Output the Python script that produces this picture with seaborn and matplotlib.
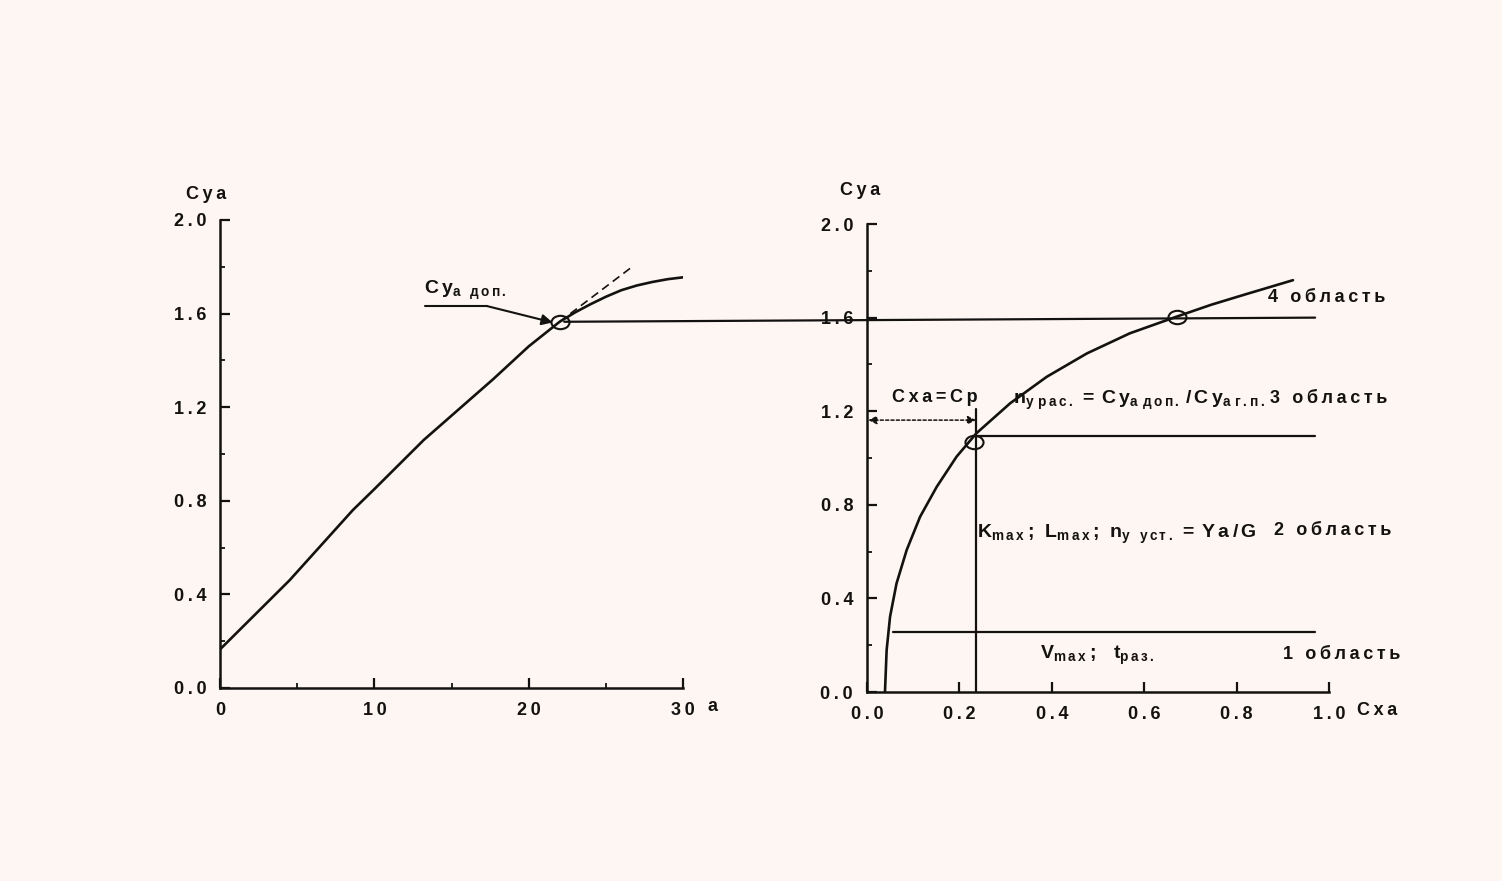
import numpy as np
import pandas as pd
import matplotlib
matplotlib.use("Agg")
import matplotlib.pyplot as plt
import seaborn as sns
from matplotlib.patches import ConnectionPatch
from matplotlib.path import Path
from matplotlib.transforms import Affine2D

# left chart: Cya(alpha)
alpha = [0, 4.5, 8.6, 10, 13.2, 17.7, 20, 22, 23, 24, 25, 26, 27, 28, 29, 30]
cya_alpha = [0.165, 0.46, 0.76, 0.85, 1.06, 1.32, 1.46, 1.565, 1.605, 1.64, 1.672,
             1.70, 1.72, 1.735, 1.747, 1.755]
tangent_alpha = [22, 26.6]
tangent_cya = [1.565, 1.795]
alpha_dop = 22
cya_dop = 1.565

# right chart: polar Cya(Cxa)
cxa = [0.039, 0.0426, 0.050, 0.064, 0.086, 0.115, 0.151, 0.194, 0.237, 0.31,
       0.389, 0.476, 0.569, 0.670, 0.745, 0.82, 0.922]
cya_polar = [0.0, 0.179, 0.322, 0.464, 0.607, 0.749, 0.877, 1.006, 1.106, 1.234,
             1.347, 1.447, 1.533, 1.604, 1.655, 1.70, 1.76]
cxa_p = 0.236
circle_p = (0.231, 1.07)
circle_dop = (0.670, 1.604)
cya_level_4 = 1.6
cya_level_3 = 1.095
cya_level_1 = 0.258
level_end = 0.97

y_ticks = [0.0, 0.4, 0.8, 1.2, 1.6, 2.0]
left_xticks = [0, 10, 20, 30]
right_xticks = [0.0, 0.2, 0.4, 0.6, 0.8, 1.0]

INK = "#141210"
BG = "#fdf6f2"
SP = "\u2009"

sns.set_theme(style="ticks")
plt.rcParams.update({
    "figure.facecolor": BG,
    "axes.facecolor": BG,
    "axes.edgecolor": INK,
    "axes.linewidth": 1.8,
    "xtick.color": INK,
    "ytick.color": INK,
    "text.color": INK,
    "font.size": 13,
    "font.weight": "bold",
    "mathtext.default": "regular",
})
plt.rcParams["font.family"] = ["Liberation Sans", "DejaVu Sans"]


def track(s):
    # old typewriter-like letter spacing
    return SP.join(s)


ell = Path.unit_circle().transformed(Affine2D().scale(1.35, 1.0))

fig = plt.figure(figsize=(15.02, 8.81), dpi=100)
ax1 = fig.add_axes([0.1465, 0.2191, 0.3083, 0.5312])
ax2 = fig.add_axes([0.5772, 0.2145, 0.3076, 0.5312])


def style_axis(ax, xlim, xticks, xminor, xfmt):
    ax.set_xlim(*xlim)
    ax.set_ylim(0, 2.0)
    ax.set_xticks(xticks)
    ax.set_xticklabels([track(xfmt.format(v)) for v in xticks])
    if xminor is not None:
        ax.set_xticks(xminor, minor=True)
    ax.set_yticks(y_ticks)
    ax.set_yticklabels([track(f"{v:.1f}") for v in y_ticks])
    ax.set_yticks(np.arange(0.2, 2.0, 0.4), minor=True)
    ax.tick_params(which="major", direction="in", length=7, width=1.6, pad=10, labelsize=13)
    ax.tick_params(which="minor", direction="in", length=3.5, width=1.3)
    ax.spines["top"].set_visible(False)
    ax.spines["right"].set_visible(False)
    ax.spines["bottom"].set_bounds(*xlim)
    ax.spines["left"].set_bounds(0, 2.0)
    ax.set_xlabel("")
    ax.set_ylabel("")


# ---- left chart
sns.lineplot(x=alpha, y=cya_alpha, ax=ax1, color=INK, lw=1.9, sort=False)
ax1.plot(tangent_alpha, tangent_cya, color=INK, lw=1.2, ls=(0, (5, 3)))
ax1.plot([alpha_dop], [cya_dop], marker=ell, ms=13, mfc="none", mec=INK, mew=1.5, ls="none")
style_axis(ax1, (0, 30), left_xticks, [5, 15, 25], "{:d}")

ax1.text(-0.9, 2.11, track("Cya"), ha="center", va="center", fontsize=13)
ax1.text(31.9, -0.08, "a", ha="center", va="center", fontsize=13)
ax1.plot([13.3, 17.3], [1.632, 1.632], color=INK, lw=1.5, clip_on=False)
ax1.annotate("", xy=(21.55, 1.562), xytext=(17.3, 1.632),
             arrowprops=dict(arrowstyle="-|>", color=INK, lw=1.5, mutation_scale=16, shrinkA=0, shrinkB=0))
ax1.text(13.2, 1.70, r"$C\/y_{а\ \ д\,о\,п\,.}$", ha="left", va="center", fontsize=14)

# ---- right chart
sns.lineplot(x=cxa, y=cya_polar, ax=ax2, color=INK, lw=1.9, sort=False)
ax2.plot([circle_p[0], circle_dop[0]], [circle_p[1], circle_dop[1]],
         marker=ell, ms=13, mfc="none", mec=INK, mew=1.5, ls="none")
ax2.plot([cxa_p, level_end], [cya_level_3, cya_level_3], color=INK, lw=1.6)
ax2.plot([0.057, level_end], [cya_level_1, cya_level_1], color=INK, lw=1.6)
ax2.plot([cxa_p, cxa_p], [0, 1.21], color=INK, lw=1.6)
ax2.annotate("", xy=(0.003, 1.162), xytext=(cxa_p, 1.162),
             arrowprops=dict(arrowstyle="<|-|>", color=INK, lw=1.1, ls=(0, (2, 1.5)),
                             mutation_scale=12, shrinkA=0, shrinkB=0))
style_axis(ax2, (0, 1.0), right_xticks, None, "{:.1f}")

ax2.text(-0.015, 2.145, track("Cya"), ha="center", va="center", fontsize=13)
ax2.text(1.06, -0.077, track("Cxa"), ha="left", va="center", fontsize=13)
ax2.text(0.147, 1.26, track("Cxa=Cp"), ha="center", va="center", fontsize=13)
ax2.text(0.316, 1.245,
         r"$n_{y\ р\,а\,с\,.}\,=\,C\/y_{а\ д\,о\,п\,.}\,/\,C\/y_{а\ г\,.п\,.}$",
         ha="left", va="center", fontsize=14)
ax2.text(1.126, 1.256, track("3 область"), ha="right", va="center", fontsize=13)
ax2.text(1.123, 1.688, track("4 область"), ha="right", va="center", fontsize=13)
ax2.text(0.238, 0.672,
         r"$K_{m\,a\,x}\,;\ L_{m\,a\,x}\,;\ n_{y\ \ у\,с\,т\,.}\,=\,Y\,a\,/\,G$",
         ha="left", va="center", fontsize=14)
ax2.text(1.136, 0.692, track("2 область"), ha="right", va="center", fontsize=13)
ax2.text(0.374, 0.158, r"$V_{m\,a\,x}\,;\ \ t_{р\,а\,з\,.}$", ha="left", va="center", fontsize=14)
ax2.text(1.154, 0.162, track("1 область"), ha="right", va="center", fontsize=13)

# level line from the admissible point on the left chart to the polar
con = ConnectionPatch(xyA=(alpha_dop + 0.3, cya_dop), coordsA=ax1.transData,
                      xyB=(level_end, cya_level_4), coordsB=ax2.transData,
                      color=INK, lw=1.6)
fig.add_artist(con)

fig.savefig("out.png", dpi=100, facecolor=BG)
